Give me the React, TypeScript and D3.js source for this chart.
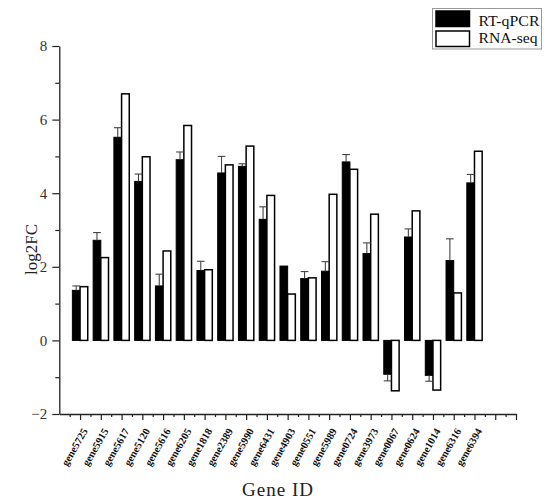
import * as d3 from 'd3';
import { useEffect, useRef } from 'react';

const svgWidth = 550;
const svgHeight = 504;

const genes = [
    'gene5725', 'gene5915', 'gene5617', 'gene5120', 'gene5616',
    'gene6205', 'gene1818', 'gene2389', 'gene5990', 'gene6431',
    'gene4903', 'gene0551', 'gene5989', 'gene0724', 'gene3973',
    'gene0067', 'gene0624', 'gene1014', 'gene6316', 'gene6394',
];
const rtqpcr = [1.36, 2.72, 5.52, 4.32, 1.48, 4.91, 1.9, 4.55, 4.73, 3.29, 2.02, 1.68, 1.88, 4.85, 2.36, -0.92, 2.81, -0.95, 2.17, 4.28];
const rtqpcrError = [0.12, 0.21, 0.26, 0.2, 0.32, 0.21, 0.25, 0.45, 0.07, 0.34, 0, 0.19, 0.26, 0.2, 0.29, 0.18, 0.22, 0.16, 0.59, 0.23];
const rnaseq = [1.46, 2.25, 6.7, 4.99, 2.43, 5.84, 1.92, 4.77, 5.28, 3.94, 1.26, 1.7, 3.97, 4.65, 3.43, -1.37, 3.52, -1.35, 1.29, 5.14];

const yMajorTicks = [-2, 0, 2, 4, 6, 8];
const yMinorTicks = [-1, 1, 3, 5, 7];
const seriesNames = ['RT-qPCR', 'RNA-seq'];

const serif = '"Liberation Serif", "DejaVu Serif", serif';

export default function App() {
    const svgRef = useRef<SVGSVGElement>(null);

    useEffect(() => {
        const svg = d3.select(svgRef.current);
        svg.selectAll('*').remove();

        const x = d3.scaleLinear().domain([0, 22]).range([59.3, 516]);
        const y = d3.scaleLinear().domain([-2, 8]).range([414, 46]);
        const barW = (x(1) - x(0)) * 0.37;

        // y axis: minor ticks first, then major ticks with labels
        svg.append('g')
            .attr('transform', `translate(${x(0)},0)`)
            .call(d3.axisLeft(y).tickValues(yMinorTicks).tickSize(4).tickFormat(() => ''))
            .call((g) => g.select('.domain').remove())
            .selectAll('line').attr('stroke', '#222').attr('stroke-width', 1.2);

        const yAxis = svg.append('g')
            .attr('transform', `translate(${x(0)},0)`)
            .call(d3.axisLeft(y).tickValues(yMajorTicks).tickSize(7).tickSizeOuter(0).tickPadding(5).tickFormat(d3.format('d')));
        yAxis.select('.domain').attr('stroke', '#222').attr('stroke-width', 1.3);
        yAxis.selectAll('line').attr('stroke', '#222').attr('stroke-width', 1.2);
        yAxis.selectAll('text')
            .attr('font-family', serif)
            .attr('font-size', 15)
            .attr('fill', '#333')
            .text((d: any) => (d < 0 ? '\u2212' + Math.abs(d) : String(d)));

        // x axis: ticks at every category and halfway between
        const xMinor = d3.range(0, 22).map((d) => d + 0.5);
        const xMajor = d3.range(1, 23);
        svg.append('g')
            .attr('transform', `translate(0,${y(-2)})`)
            .call(d3.axisBottom(x).tickValues(xMinor).tickSize(3).tickFormat(() => ''))
            .call((g) => g.select('.domain').remove())
            .selectAll('line').attr('stroke', '#222').attr('stroke-width', 1.2);

        const xAxis = svg.append('g')
            .attr('transform', `translate(0,${y(-2)})`)
            .call(d3.axisBottom(x).tickValues(xMajor).tickSize(6).tickSizeOuter(0).tickFormat(() => ''));
        xAxis.select('.domain').attr('stroke', '#222').attr('stroke-width', 1.3);
        xAxis.selectAll('line').attr('stroke', '#222').attr('stroke-width', 1.2);

        // gene labels, rotated
        svg.append('g')
            .selectAll('text')
            .data(genes)
            .join('text')
            .attr('transform', (d, i) => `translate(${x(i + 1) + 8},431) rotate(-60)`)
            .attr('text-anchor', 'end')
            .attr('font-family', serif)
            .attr('font-weight', 'bold')
            .attr('font-size', 10.5)
            .attr('fill', '#111')
            .text((d) => d);

        // RT-qPCR bars
        svg.append('g')
            .selectAll('rect')
            .data(rtqpcr)
            .join('rect')
            .attr('x', (d, i) => x(i + 1) - barW)
            .attr('y', (d) => y(Math.max(0, d)))
            .attr('width', barW)
            .attr('height', (d) => Math.abs(y(d) - y(0)))
            .attr('fill', '#000')
            .attr('stroke', '#000')
            .attr('stroke-width', 1);

        // RNA-seq bars
        svg.append('g')
            .selectAll('rect')
            .data(rnaseq)
            .join('rect')
            .attr('x', (d, i) => x(i + 1))
            .attr('y', (d) => y(Math.max(0, d)))
            .attr('width', barW)
            .attr('height', (d) => Math.abs(y(d) - y(0)))
            .attr('fill', '#fff')
            .attr('stroke', '#000')
            .attr('stroke-width', 1.5);

        // error bars on RT-qPCR, drawn away from zero
        const err = svg.append('g').attr('stroke', '#444').attr('stroke-width', 1.1);
        rtqpcr.forEach((v, i) => {
            if (!rtqpcrError[i]) return;
            const cx = x(i + 1) - barW / 2;
            const end = v >= 0 ? v + rtqpcrError[i] : v - rtqpcrError[i];
            err.append('line').attr('x1', cx).attr('x2', cx).attr('y1', y(v)).attr('y2', y(end));
            err.append('line')
                .attr('x1', cx - barW / 2).attr('x2', cx + barW / 2)
                .attr('y1', y(end)).attr('y2', y(end));
        });

        // axis titles
        svg.append('text')
            .attr('transform', `translate(37,${(y(8) + y(-2)) / 2 + 45}) rotate(-90)`)
            .attr('font-family', serif)
            .attr('font-size', 17)
            .attr('fill', '#222')
            .text('log2FC');

        svg.append('text')
            .attr('x', 278)
            .attr('y', 496)
            .attr('text-anchor', 'middle')
            .attr('font-family', serif)
            .attr('font-size', 19)
            .attr('letter-spacing', 1)
            .attr('fill', '#222')
            .text('Gene ID');

        // legend
        const legend = svg.append('g');
        legend.append('rect')
            .attr('x', 432.5).attr('y', 8.5).attr('width', 109).attr('height', 40.5)
            .attr('fill', '#fff').attr('stroke', '#999').attr('stroke-width', 1);
        const swatchFill = ['#000', '#fff'];
        const swatchTop = [11, 31];
        const labelBase = [25.5, 43];
        seriesNames.forEach((name, i) => {
            legend.append('rect')
                .attr('x', 436).attr('y', swatchTop[i]).attr('width', 33.5).attr('height', 15.5)
                .attr('fill', swatchFill[i]).attr('stroke', '#000').attr('stroke-width', 1.5);
            legend.append('text')
                .attr('x', 478.5).attr('y', labelBase[i])
                .attr('font-family', serif)
                .attr('font-size', 15)
                .attr('textLength', i === 0 ? 61 : 59)
                .attr('lengthAdjust', 'spacingAndGlyphs')
                .attr('fill', '#111')
                .text(name);
        });
    }, []);

    return (
        <svg
            ref={svgRef}
            width={svgWidth}
            height={svgHeight}
            style={{ position: 'absolute', left: 0, top: 0, background: '#fff' }}
        />
    );
}
